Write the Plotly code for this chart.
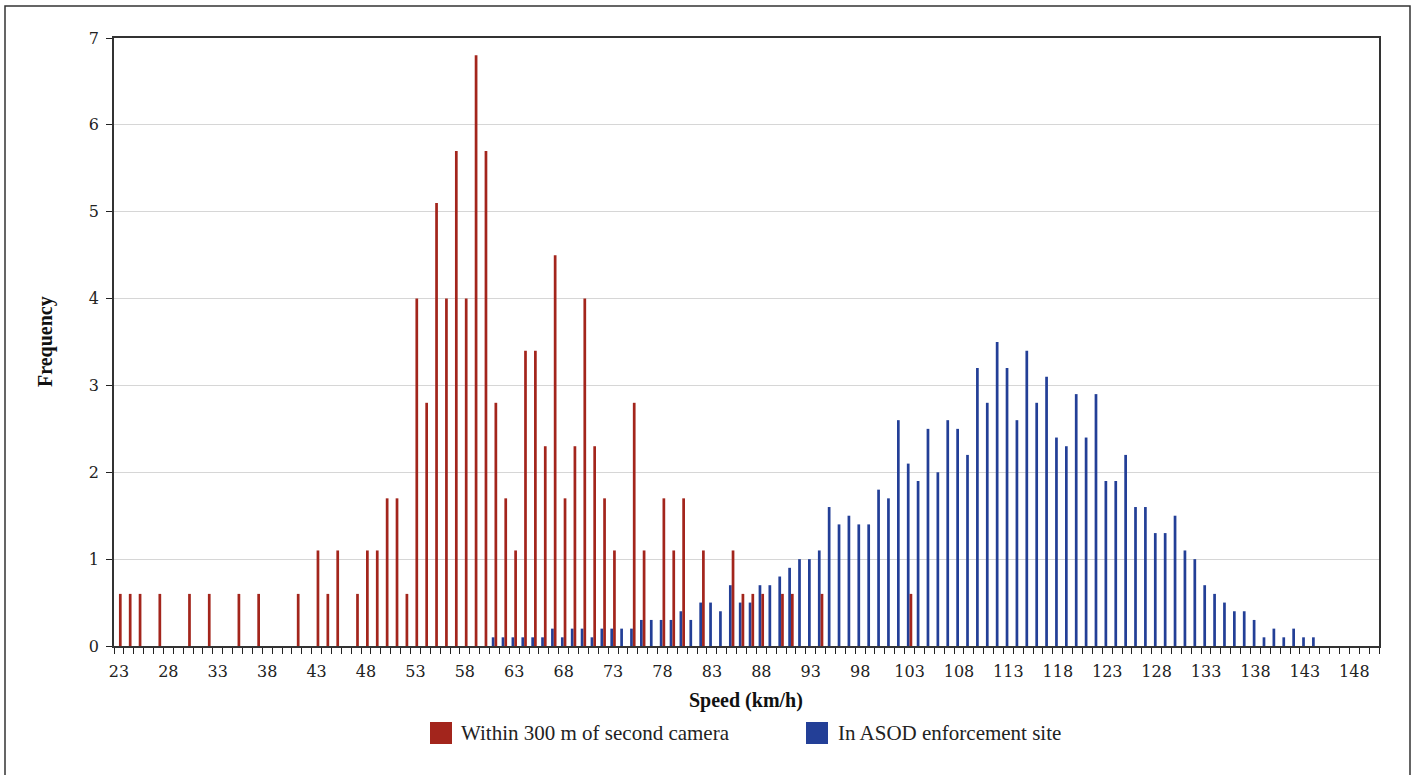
import plotly.graph_objects as go

# ---- data ----
red_speeds = [23, 24, 25, 27, 30, 32, 35, 37, 41, 43, 44, 45, 47, 48, 49, 50, 51, 52,
              53, 54, 55, 56, 57, 58, 59, 60, 61, 62, 63, 64, 65, 66, 67, 68, 69, 70,
              71, 72, 73, 75, 76, 78, 79, 80, 82, 85, 86, 87, 88, 90, 91, 94, 103]
red_freq = [0.6, 0.6, 0.6, 0.6, 0.6, 0.6, 0.6, 0.6, 0.6, 1.1, 0.6, 1.1, 0.6, 1.1, 1.1, 1.7, 1.7, 0.6,
            4.0, 2.8, 5.1, 4.0, 5.7, 4.0, 6.8, 5.7, 2.8, 1.7, 1.1, 3.4, 3.4, 2.3, 4.5, 1.7, 2.3, 4.0,
            2.3, 1.7, 1.1, 2.8, 1.1, 1.7, 1.1, 1.7, 1.1, 1.1, 0.6, 0.6, 0.6, 0.6, 0.6, 0.6, 0.6]

blue_speeds = list(range(61, 145))
blue_freq = [0.1, 0.1, 0.1, 0.1, 0.1, 0.1, 0.2, 0.1, 0.2, 0.2,   # 61-70
             0.1, 0.2, 0.2, 0.2, 0.2, 0.3, 0.3, 0.3, 0.3, 0.4,   # 71-80
             0.3, 0.5, 0.5, 0.4, 0.7, 0.5, 0.5, 0.7, 0.7, 0.8,   # 81-90
             0.9, 1.0, 1.0, 1.1, 1.6, 1.4, 1.5, 1.4, 1.4, 1.8,   # 91-100
             1.7, 2.6, 2.1, 1.9, 2.5, 2.0, 2.6, 2.5, 2.2, 3.2,   # 101-110
             2.8, 3.5, 3.2, 2.6, 3.4, 2.8, 3.1, 2.4, 2.3, 2.9,   # 111-120
             2.4, 2.9, 1.9, 1.9, 2.2, 1.6, 1.6, 1.3, 1.3, 1.5,   # 121-130
             1.1, 1.0, 0.7, 0.6, 0.5, 0.4, 0.4, 0.3, 0.1, 0.2,   # 131-140
             0.1, 0.2, 0.1, 0.1]                                 # 141-144

x_tick_vals = list(range(23, 149, 5))
x_tick_text = [str(v) for v in x_tick_vals]
y_tick_vals = list(range(0, 8))

red_name = "Within 300 m of second camera"
blue_name = "In ASOD enforcement site"
RED = "#A3251C"
BLUE = "#233F97"

# ---- figure ----
W, H = 1415, 775
L, T = 114, 38
pw, ph = 1379 - 114, 646 - 38
R = W - L - pw
B = H - T - ph

def px2paper(x, y):
    """screen pixel -> paper coords"""
    return (x - L) / pw, (T + ph - y) / ph

fig = go.Figure()
fig.add_trace(go.Bar(x=blue_speeds, y=blue_freq, name=blue_name,
                     marker=dict(color=BLUE, line=dict(width=0)), showlegend=False))
fig.add_trace(go.Bar(x=red_speeds, y=red_freq, name=red_name,
                     marker=dict(color=RED, line=dict(width=0)), showlegend=False))

tick_font = dict(family="DejaVu Serif", size=16, color="#222222")
title_font = dict(family="Liberation Serif", size=20, color="#111111")

fig.update_layout(
    width=W, height=H,
    margin=dict(l=L, r=R, t=T, b=B, pad=0),
    paper_bgcolor="white", plot_bgcolor="white",
    barmode="group", bargap=0.45, bargroupgap=0,
    xaxis=dict(range=[22.5, 150.5], tickmode="array", tickvals=x_tick_vals,
               ticktext=x_tick_text, ticks="outside", ticklen=6, tickcolor="rgba(0,0,0,0)",
               ticklabelstandoff=4,
               tickfont=tick_font, showgrid=False, zeroline=False,
               showline=True, linecolor="#333333", linewidth=1.5, mirror=True,
               minor=dict(tick0=22.5, dtick=1, ticks="outside", ticklen=6,
                          tickcolor="#222222", tickwidth=1.2, showgrid=False)),
    yaxis=dict(range=[0, 7], tickmode="array", tickvals=y_tick_vals,
               ticks="outside", ticklen=6, tickcolor="#222222", tickwidth=1.2,
               ticklabelstandoff=4,
               tickfont=tick_font, showgrid=True, gridcolor="#d6d6d6", gridwidth=1,
               zeroline=False, showline=True, linecolor="#333333", linewidth=1.5,
               mirror=True),
)

# axis titles
ax, ay = px2paper(746, 700)
fig.add_annotation(text="<b>Speed (km/h)</b>", xref="paper", yref="paper", x=ax, y=ay,
                   xanchor="center", yanchor="middle", showarrow=False, font=title_font)
ax, ay = px2paper(45, 342)
fig.add_annotation(text="<b>Frequency</b>", xref="paper", yref="paper", x=ax, y=ay,
                   xanchor="center", yanchor="middle", showarrow=False, textangle=-90,
                   font=title_font)

# custom legend
legend_font = dict(family="Liberation Serif", size=21, color="#222222")
for (sx, tx, col, name) in [(430, 459, RED, red_name), (806, 836, BLUE, blue_name)]:
    x0, y0 = px2paper(sx, 744)
    x1, y1 = px2paper(sx + 22, 722)
    fig.add_shape(type="rect", xref="paper", yref="paper", x0=x0, y0=y0, x1=x1, y1=y1,
                  fillcolor=col, line=dict(width=0))
    tx_, ty_ = px2paper(tx, 733)
    fig.add_annotation(text=name, xref="paper", yref="paper", x=tx_, y=ty_,
                       xanchor="left", yanchor="middle", showarrow=False, font=legend_font)

# outer border
x0, y0 = px2paper(5, 790)
x1, y1 = px2paper(1410, 6)
fig.add_shape(type="rect", xref="paper", yref="paper", x0=x0, y0=y0, x1=x1, y1=y1,
              line=dict(color="#333333", width=1.5), fillcolor="rgba(0,0,0,0)", layer="below")

# remove the browser's default body margin so the figure sits at the page origin
fig.write_html("out.html",
               config={"displayModeBar": False},
               post_script="document.body.style.margin='0px';document.body.style.overflow='hidden';")
